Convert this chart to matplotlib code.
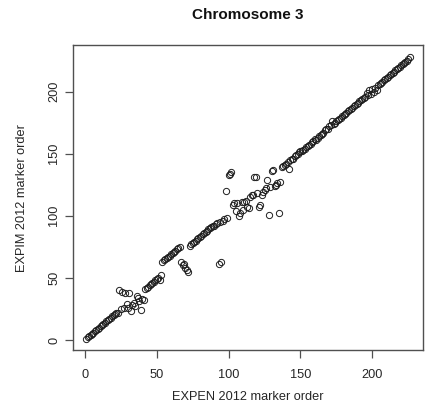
import matplotlib
matplotlib.use("Agg")
import matplotlib.pyplot as plt

# EXPEN 2012 marker order (x) vs EXPIM 2012 marker order (y), chromosome 3
expen_order = [
    1, 2, 3, 4, 5, 6, 7, 8, 9, 10,
    11, 12, 13, 14, 15, 16, 17, 18, 19, 20,
    21, 22, 23, 24, 25, 26, 27, 28, 29, 30,
    31, 32, 33, 34, 35, 36, 37, 38, 39, 40,
    41, 42, 43, 44, 45, 46, 47, 48, 49, 50,
    51, 52, 53, 54, 55, 56, 57, 58, 59, 60,
    61, 62, 63, 64, 65, 66, 67, 68, 69, 70,
    71, 72, 73, 74, 75, 76, 77, 78, 79, 80,
    81, 82, 83, 84, 85, 86, 87, 88, 89, 90,
    91, 92, 93, 94, 95, 96, 97, 98, 99, 100,
    101, 102, 103, 104, 105, 106, 107, 108, 109, 110,
    111, 112, 113, 114, 115, 116, 117, 118, 119, 120,
    121, 122, 123, 124, 125, 126, 127, 128, 129, 130,
    131, 132, 133, 134, 135, 136, 137, 138, 139, 140,
    141, 142, 143, 144, 145, 146, 147, 148, 149, 150,
    151, 152, 153, 154, 155, 156, 157, 158, 159, 160,
    161, 162, 163, 164, 165, 166, 167, 168, 169, 170,
    171, 172, 173, 174, 175, 176, 177, 178, 179, 180,
    181, 182, 183, 184, 185, 186, 187, 188, 189, 190,
    191, 192, 193, 194, 195, 196, 197, 198, 199, 200,
    201, 202, 203, 204, 205, 206, 207, 208, 209, 210,
    211, 212, 213, 214, 215, 216, 217, 218, 219, 220,
    221, 222, 223, 224, 225, 226,
]
expim_order = [
    1, 2, 3, 4, 5, 6, 7, 8, 9, 10,
    11, 12, 13, 14, 15, 16, 17, 18, 19, 20,
    21, 22, 22, 40, 25, 39, 26, 38, 29, 26,
    38, 23, 28, 30, 27, 35, 34, 31, 24, 33,
    32, 41, 42, 43, 44, 45, 46, 47, 48, 49,
    50, 48, 52, 63, 64, 65, 66, 67, 68, 69,
    70, 71, 72, 73, 74, 75, 63, 60, 61, 58,
    56, 55, 76, 77, 78, 79, 80, 81, 82, 83,
    84, 85, 86, 87, 88, 89, 90, 91, 92, 92,
    93, 94, 61, 95, 63, 96, 97, 120, 98, 133,
    134, 135, 109, 110, 104, 110, 100, 102, 111, 105,
    111, 112, 107, 106, 115, 117, 117, 131, 131, 118,
    107, 109, 117, 119, 121, 122, 129, 101, 123, 136,
    137, 124, 125, 126, 102, 127, 139, 140, 141, 142,
    143, 138, 145, 146, 146, 148, 149, 150, 151, 152,
    152, 153, 154, 155, 156, 157, 158, 159, 160, 162,
    161, 163, 164, 165, 166, 167, 169, 170, 170, 172,
    173, 176, 174, 175, 176, 177, 178, 179, 180, 181,
    182, 183, 184, 185, 186, 187, 188, 189, 190, 191,
    192, 193, 194, 195, 196, 199, 197, 201, 198, 202,
    200, 203, 201, 205, 206, 207, 208, 209, 210, 211,
    212, 213, 214, 215, 216, 217, 218, 219, 220, 221,
    222, 223, 224, 225, 226, 228,
]
tick_values = [0, 50, 100, 150, 200]
title = "Chromosome 3"
x_label = "EXPEN 2012 marker order"
y_label = "EXPIM 2012 marker order"

plt.rcParams["font.family"] = ["Liberation Sans", "DejaVu Sans"]
text_col = "#262626"
frame_col = "#505050"

W, H = 429, 419
fig = plt.figure(figsize=(W / 100, H / 100), dpi=100)
left, right, top, bottom = 73.3, 422.7, 45.5, 350.0
ax = fig.add_axes([left / W, 1 - bottom / H, (right - left) / W, (bottom - top) / H])

ax.plot(expen_order, expim_order, linestyle="none", marker="o", markersize=4.5,
        markerfacecolor="none", markeredgecolor="#1e1e1e", markeredgewidth=0.7)

ax.margins(x=0.04, y=0.04)
ax.set_xticks(tick_values)
ax.set_yticks(tick_values)
ax.set_xticklabels([str(v) for v in tick_values])
ax.set_yticklabels([str(v) for v in tick_values], rotation=90, va="center")

for s in ax.spines.values():
    s.set_color(frame_col)
    s.set_linewidth(1.0)
ax.tick_params(axis="both", direction="out", length=5.5, width=0.9, color=frame_col,
               labelsize=9.2, labelcolor=text_col)
ax.tick_params(axis="x", pad=8.5)
ax.tick_params(axis="y", pad=4.0)

fig.text((left + right) / 2 / W, 1 - 15 / H, title, ha="center", va="center",
         fontsize=11, fontweight="bold", color="#111111")
fig.text((left + right) / 2 / W, 1 - 397 / H, x_label, ha="center", va="center",
         fontsize=9.2, color=text_col)
fig.text(21.7 / W, 1 - (top + bottom) / 2 / H, y_label, ha="center", va="center",
         rotation=90, fontsize=9.2, color=text_col)

fig.savefig("out.png", dpi=100)
